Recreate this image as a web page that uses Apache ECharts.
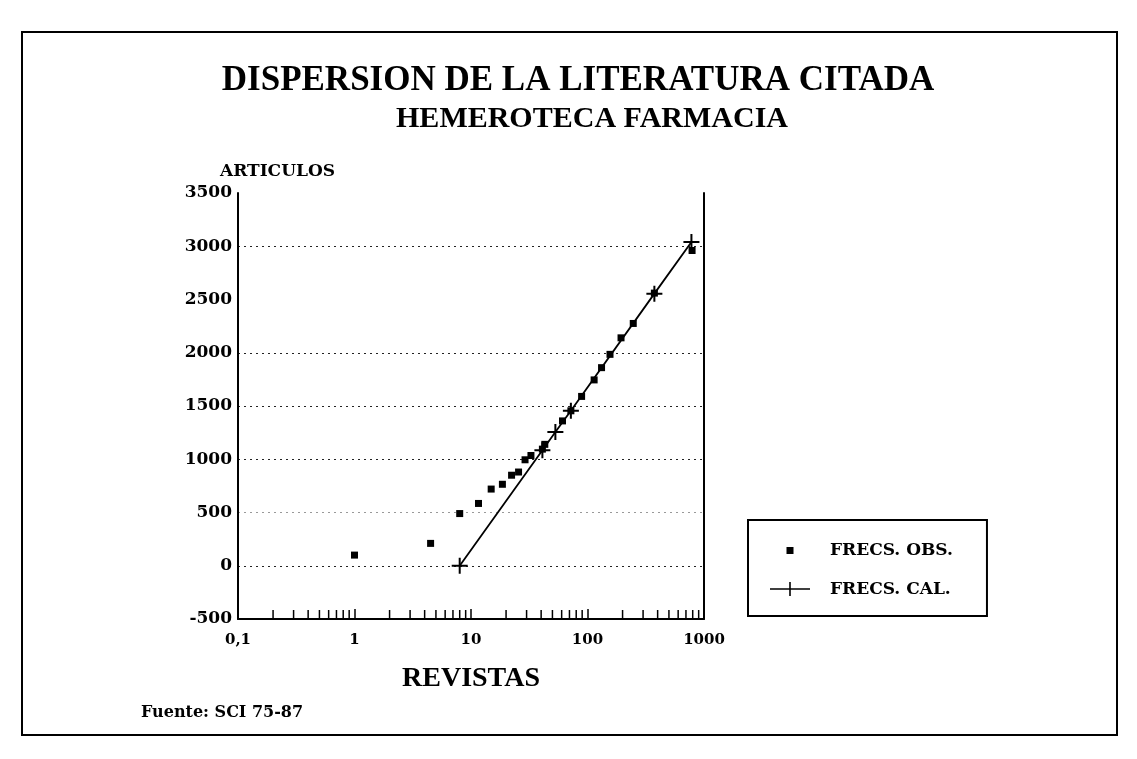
<!DOCTYPE html>
<html>
<head>
<meta charset="utf-8">
<script src="https://cdn.jsdelivr.net/npm/echarts@6/dist/echarts.min.js"></script>
<style>
html,body{margin:0;padding:0;background:#fff;}
#chart{width:1137px;height:759px;}
</style>
</head>
<body>
<div id="chart"></div>
<script>
// Observed frequencies (x = revistas, y = articulos acumulados)
var obsX = [1, 4.5, 8, 11.6, 14.9, 18.6, 22.3, 25.6, 29.1, 32.7, 41, 43, 61, 72, 89, 114, 132, 156, 194, 247, 375, 790];
var obsY = [100, 210, 490, 585, 720, 765, 850, 880, 995, 1035, 1095, 1140, 1360, 1455, 1590, 1745, 1860, 1985, 2140, 2275, 2560, 2960];
// Calculated frequencies
var calX = [8, 41, 53, 72, 375, 780];
var calY = [0, 1085, 1255, 1455, 2555, 3040];
// minor tick positions on the log axis
var minorTicks = [0.2,0.3,0.4,0.5,0.6,0.7,0.8,0.9, 2,3,4,5,6,7,8,9, 20,30,40,50,60,70,80,90, 200,300,400,500,600,700,800,900];
var yTicks = {min: -500, max: 3500, interval: 500};
var xRange = {min: 0.1, max: 1000};

function zip(a, b){ return a.map(function(v,i){ return [v, b[i]]; }); }

var chart = echarts.init(document.getElementById('chart'), null, {renderer:'canvas'});
var serif = "'Liberation Serif', 'DejaVu Serif', serif";
var heavy = "'DejaVu Serif', 'Liberation Serif', serif";

var crossPath = 'path://M0,7 L16,7 L16,9 L0,9 Z M7,0 L9,0 L9,16 L7,16 Z';
var obsIcon = 'path://M0,0 L0.1,0 L0.1,0.1 Z M16.5,4.5 L23.5,4.5 L23.5,11.5 L16.5,11.5 Z M54.9,15.9 L55,15.9 L55,16 Z';
var calIcon = 'path://M0,7.2 L40,7.2 L40,8.8 L0,8.8 Z M19.2,1 L20.8,1 L20.8,15 L19.2,15 Z M54.9,15.9 L55,15.9 L55,16 Z';

var option = {
  backgroundColor: '#fff',
  animation: false,
  title: [
    {text: 'DISPERSION DE LA LITERATURA CITADA', left: 573, top: 58, textAlign: 'center',
     textStyle: {fontFamily: serif, fontWeight: 'bold', fontSize: 35, color: '#000'}},
    {text: 'HEMEROTECA FARMACIA', left: 587, top: 99, textAlign: 'center',
     textStyle: {fontFamily: serif, fontWeight: 'bold', fontSize: 30, color: '#000'}},
    {text: 'Fuente: SCI 75-87', left: 136, top: 700,
     textStyle: {fontFamily: heavy, fontWeight: 'bold', fontSize: 16, color: '#000'}}
  ],
  graphic: [
    {type: 'rect', shape: {x: 22, y: 32, width: 1095, height: 703},
     style: {fill: 'none', stroke: '#000', lineWidth: 2}, silent: true, z: -1}
  ],
  legend: {
    orient: 'vertical',
    left: 748, top: 520,
    padding: [22, 34, 18, 22],
    itemGap: 22,
    itemWidth: 55, itemHeight: 16,
    borderColor: '#000', borderWidth: 2,
    textStyle: {fontFamily: heavy, fontWeight: 'bold', fontSize: 17, color: '#000'},
    data: [
      {name: 'FRECS. OBS.', icon: obsIcon, itemStyle: {opacity: 1}},
      {name: 'FRECS. CAL.', icon: calIcon, itemStyle: {opacity: 1}}
    ]
  },
  grid: {left: 238, right: 433, top: 193, bottom: 140, containLabel: false},
  xAxis: {
    type: 'log', logBase: 10, min: xRange.min, max: xRange.max,
    name: 'REVISTAS', nameLocation: 'middle', nameGap: 46,
    nameTextStyle: {fontFamily: serif, fontWeight: 'bold', fontSize: 28, color: '#000'},
    axisLine: {show: true, onZero: false, lineStyle: {color: '#000', width: 2}},
    axisTick: {show: true, inside: true, length: 10, lineStyle: {color: '#000', width: 1.5}},
    axisLabel: {fontFamily: heavy, fontWeight: 'bold', fontSize: 15, color: '#000', margin: 14,
      formatter: function(v){ return v < 1 ? String(v).replace('.', ',') : String(v); }},
    splitLine: {show: false}
  },
  yAxis: [
    {
      type: 'value', min: yTicks.min, max: yTicks.max, interval: yTicks.interval,
      name: 'ARTICULOS', nameLocation: 'end', nameGap: 13,
      nameTextStyle: {fontFamily: heavy, fontWeight: 'bold', fontSize: 17, color: '#000', align: 'left', padding: [0,0,0,-18]},
      axisLine: {show: true, lineStyle: {color: '#000', width: 2}},
      axisTick: {show: false},
      axisLabel: {fontFamily: heavy, fontWeight: 'bold', fontSize: 17, color: '#000', margin: 6,
        formatter: function(v){ return String(v); }},
      splitLine: {show: true, lineStyle: {type: [2, 4], width: 1,
        color: ['rgba(0,0,0,0)', '#222', '#999', '#222', '#222', '#222', 'rgba(0,0,0,0)', '#222', 'rgba(0,0,0,0)']}}
    },
    {
      type: 'value', position: 'right', min: yTicks.min, max: yTicks.max, interval: yTicks.interval,
      axisLine: {show: true, lineStyle: {color: '#000', width: 2}},
      axisTick: {show: false}, axisLabel: {show: false}, splitLine: {show: false}
    }
  ],
  series: [
    {
      name: 'FRECS. OBS.', type: 'scatter', data: zip(obsX, obsY),
      symbol: 'rect', symbolSize: 7,
      itemStyle: {color: '#000', opacity: 1}, z: 3
    },
    {
      name: 'FRECS. CAL.', type: 'line', data: zip(calX, calY),
      symbol: crossPath, symbolSize: 16, showAllSymbol: true,
      lineStyle: {color: '#000', width: 1.8},
      itemStyle: {color: '#000', opacity: 1}, z: 4
    },
    {
      name: 'ticks', type: 'scatter', silent: true, clip: false,
      data: minorTicks.map(function(v){ return [v, yTicks.min]; }),
      symbol: 'rect', symbolSize: [1.5, 9], symbolOffset: [0, -4.5],
      itemStyle: {color: '#000', opacity: 1}, z: 5
    }
  ]
};
chart.setOption(option);
</script>
</body>
</html>
